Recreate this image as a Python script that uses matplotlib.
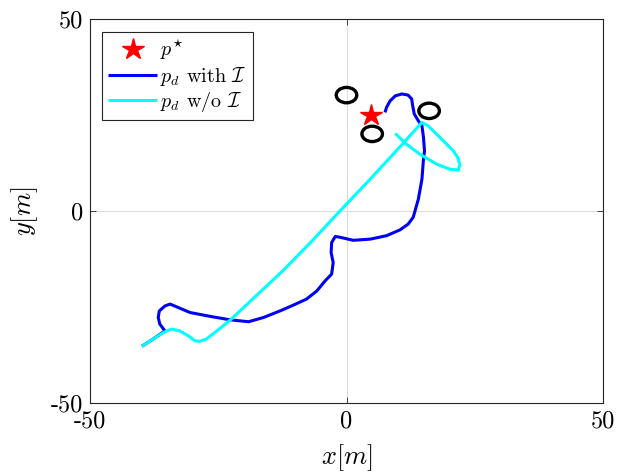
import matplotlib
matplotlib.use("Agg")
import matplotlib.pyplot as plt
from matplotlib.patches import Ellipse

plt.rcParams['mathtext.fontset'] = 'cm'
plt.rcParams['font.family'] = 'serif'
plt.rcParams['font.serif'] = ['cmr10', 'DejaVu Serif']
plt.rcParams['axes.unicode_minus'] = False

# target point
star_x = [4.8]
star_y = [25.0]

# obstacles (circle centres and radius)
obs_x = [0.0, 5.0, 16.1]
obs_y = [30.2, 20.1, 26.1]
obs_r = [2.0, 2.0, 2.0]

# trajectory with I
with_x = [-39.9, -37.7, -35.4, -36.4, -36.7, -36.5, -35.4, -34.4, -32.8, -30.5, -26.6,
          -22.7, -19.1, -16.2, -13.0, -10.4, -7.8, -5.8, -4.2, -2.9, -2.6, -3.0, -2.9,
          -2.2, -1.3, 1.3, 4.6, 7.8, 10.4, 12.0, 13.0, 14.0, 14.7, 15.0, 15.2, 15.0,
          14.7, 14.0, 13.2, 12.9, 12.7, 12.0, 10.8, 9.5, 8.5, 7.8, 7.5]
with_y = [-35.2, -33.3, -31.2, -29.4, -27.7, -26.0, -24.7, -24.2, -25.1, -26.4, -27.4,
          -28.3, -28.8, -27.7, -26.0, -24.5, -22.9, -20.8, -18.2, -16.4, -13.4, -10.8, -8.2,
          -6.6, -6.8, -7.6, -7.3, -6.4, -4.9, -3.4, -1.6, 3.1, 8.3, 13.5, 15.7, 19.2,
          22.2, 23.5, 25.3, 27.4, 29.2, 30.2, 30.5, 30.0, 28.7, 27.0, 25.7]

# trajectory without I
wo_x = [-39.9, -37.7, -35.4, -34.1, -32.5, -30.8, -29.5, -28.6, -27.3, -25.3, -22.7,
        -17.5, -12.3, -7.1, -1.3, 4.6, 10.4, 14.7, 15.9, 18.2, 20.8, 21.7, 22.1, 21.8,
        20.2, 17.6, 14.3, 11.7, 9.5]
wo_y = [-35.2, -33.3, -31.4, -30.7, -31.2, -32.5, -33.8, -33.9, -33.3, -31.2, -28.4,
        -21.9, -15.4, -8.3, 0.0, 8.3, 16.7, 23.1, 22.2, 19.2, 15.7, 13.9, 12.0, 10.7,
        10.9, 12.2, 14.8, 17.4, 20.2]

ticks = [-50, 0, 50]
tick_labels = ['-50', '0', '50']

fig = plt.figure(figsize=(6.26, 4.76), dpi=100)
ax = fig.add_axes([0.1438, 0.153, 0.8195, 0.807])

ax.plot(with_x, with_y, color=(0.0, 0.0, 0.95), lw=2.2, label=r'$p_d$ with $\mathcal{I}$',
        zorder=3, solid_joinstyle='round', solid_capstyle='butt')
ax.plot(wo_x, wo_y, color=(0.0, 1.0, 1.0), lw=2.2, label=r'$p_d$ w/o $\mathcal{I}$',
        zorder=4, solid_joinstyle='round', solid_capstyle='butt')
for cx, cy, r in zip(obs_x, obs_y, obs_r):
    ax.add_patch(Ellipse((cx, cy), 2 * r, 2 * r, fill=False, ec='black', lw=2.4, zorder=5))
ax.plot(star_x, star_y, linestyle='none', marker='*', color='red', markersize=16,
        label=r'$p^{\star}$', zorder=6)

ax.set_xlim(-50, 50)
ax.set_ylim(-50, 50)
ax.set_xticks(ticks)
ax.set_yticks(ticks)
ax.set_xticklabels(tick_labels, fontsize=17.5)
ax.set_yticklabels(tick_labels, fontsize=17.5)
ax.tick_params(direction='in', length=4, width=0.6, color='#262626', top=True, right=True, pad=5)
ax.grid(True, color='#dcdcdc', lw=0.8)
ax.set_axisbelow(True)
for s in ax.spines.values():
    s.set_color('#262626')
    s.set_linewidth(0.8)

ax.set_xlabel(r'$x[m]$', fontsize=19, labelpad=7)
ax.set_ylabel(r'$y[m]$', fontsize=19, labelpad=8)

h, l = ax.get_legend_handles_labels()
order = [2, 0, 1]
leg = ax.legend([h[i] for i in order], [l[i] for i in order], loc='upper left',
                bbox_to_anchor=(0.023, 0.966), fontsize=14.5, fancybox=False, framealpha=1,
                edgecolor='#262626', handlelength=2.45, handletextpad=0.15, borderpad=0.3,
                labelspacing=0.12, borderaxespad=0)
leg.get_frame().set_linewidth(0.8)

fig.savefig('out.png', dpi=100)
